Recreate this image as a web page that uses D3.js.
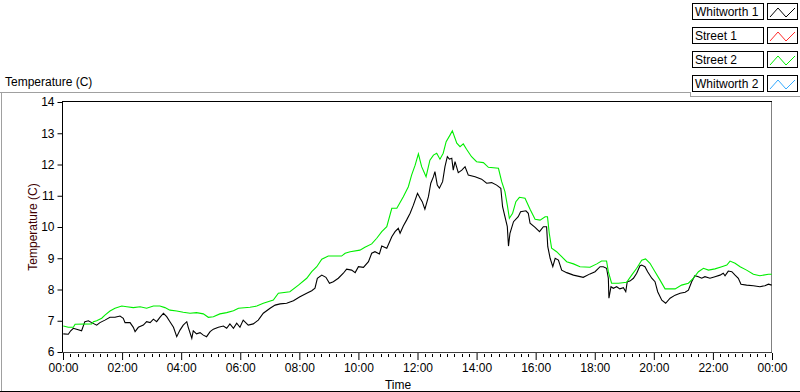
<!DOCTYPE html>
<html><head><meta charset="utf-8">
<script src="https://cdn.jsdelivr.net/npm/d3@7"></script>
<style>
html,body{margin:0;padding:0;background:#fff;}
svg{display:block;font-family:"Liberation Sans",Arial,sans-serif;}
</style></head>
<body>
<svg id="chart" width="800" height="392"></svg>
<script>
// ---------- data ----------
const seriesNames = ["Whitworth 1", "Street 1", "Street 2", "Whitworth 2"];
const seriesColors = ["#000000", "#ff2a2a", "#00ee00", "#33aaff"];

const whitworth1Hours = [0.01,0.18,0.26,0.35,0.46,0.63,0.74,0.86,0.97,1.14,1.25,1.42,1.59,1.76,1.93,2.04,2.10,2.27,2.38,2.44,2.55,2.72,2.83,2.95,3.06,3.17,3.28,3.40,3.51,3.62,3.74,3.85,3.96,4.07,4.19,4.24,4.36,4.41,4.52,4.64,4.75,4.86,4.98,5.09,5.26,5.43,5.54,5.65,5.77,5.88,5.99,6.10,6.27,6.44,6.61,6.78,7.01,7.18,7.35,7.57,7.80,8.02,8.25,8.42,8.53,8.61,8.76,8.90,9.02,9.15,9.32,9.49,9.60,9.77,9.89,10.00,10.17,10.34,10.45,10.56,10.71,10.79,10.96,11.13,11.24,11.35,11.41,11.52,11.63,11.75,11.86,12.00,12.09,12.16,12.25,12.37,12.45,12.54,12.59,12.67,12.74,12.85,12.93,13.01,13.08,13.16,13.21,13.27,13.38,13.50,13.61,13.72,13.95,14.17,14.34,14.51,14.68,14.82,14.88,14.96,15.04,15.08,15.13,15.25,15.41,15.49,15.67,15.75,15.81,15.98,16.13,16.26,16.37,16.41,16.49,16.58,16.66,16.77,16.88,17.05,17.28,17.61,17.84,18.01,18.18,18.29,18.40,18.46,18.48,18.55,18.63,18.74,18.85,18.97,19.05,19.10,19.19,19.31,19.42,19.53,19.59,19.70,19.79,19.93,20.04,20.13,20.27,20.40,20.55,20.72,20.89,21.06,21.17,21.28,21.39,21.51,21.62,21.73,21.90,22.07,22.24,22.35,22.41,22.52,22.64,22.75,22.86,22.95,23.14,23.37,23.59,23.76,23.88,23.99];
const whitworth1Temps = [6.58,6.57,6.68,6.76,6.73,6.68,6.97,7.00,6.94,6.86,6.94,7.02,7.11,7.11,7.15,7.08,6.94,6.94,6.79,6.65,6.79,6.86,6.97,6.94,7.05,6.97,7.11,7.24,7.13,6.97,6.79,6.49,6.70,6.86,6.97,6.79,6.44,6.68,6.58,6.62,6.54,6.49,6.65,6.73,6.79,6.83,6.76,6.90,6.76,6.92,6.79,7.02,6.86,6.90,7.02,7.24,7.40,7.50,7.54,7.56,7.64,7.77,7.88,7.96,8.04,8.36,8.46,8.39,8.20,8.25,8.36,8.52,8.65,8.62,8.54,8.73,8.71,8.89,9.16,9.21,9.14,9.39,9.32,9.69,9.85,9.96,9.80,10.03,10.22,10.44,10.70,11.08,10.92,10.81,10.57,10.97,11.40,11.61,11.77,11.34,11.24,11.45,11.93,12.25,12.17,12.20,11.82,12.09,11.74,11.82,11.93,11.66,11.61,11.53,11.40,11.42,11.34,11.24,10.65,10.33,10.01,9.39,9.80,10.17,10.33,10.49,10.52,10.44,10.12,9.99,9.85,10.01,10.01,9.37,9.00,8.73,9.00,8.94,8.62,8.54,8.46,8.39,8.50,8.57,8.73,8.73,8.68,8.36,7.72,8.09,8.04,8.09,8.02,8.06,7.93,8.25,8.27,8.36,8.52,8.76,8.78,8.73,8.57,8.36,8.25,7.93,7.66,7.56,7.72,7.82,7.88,7.91,7.98,8.25,8.44,8.41,8.36,8.41,8.36,8.41,8.46,8.52,8.44,8.59,8.57,8.46,8.36,8.17,8.14,8.12,8.09,8.12,8.17,8.14];

const street1Hours = [];
const street1Temps = [];

const street2Hours = [0.01,0.18,0.35,0.41,0.97,1.03,1.14,1.31,1.42,1.59,1.76,1.99,2.16,2.38,2.61,2.83,3.06,3.28,3.45,3.62,3.85,4.07,4.30,4.52,4.75,4.92,5.09,5.31,5.54,5.77,5.94,6.33,6.56,6.78,7.12,7.29,7.68,7.97,8.25,8.42,8.59,8.76,8.98,9.43,9.55,9.72,10.05,10.22,10.45,10.62,10.79,10.96,11.13,11.30,11.52,11.69,11.80,11.92,12.03,12.14,12.29,12.42,12.54,12.65,12.76,12.87,12.97,13.10,13.18,13.33,13.44,13.55,13.66,13.83,14.00,14.23,14.40,14.74,14.85,14.96,15.04,15.11,15.22,15.33,15.45,15.64,15.81,15.98,16.15,16.32,16.40,16.46,16.54,16.71,16.88,17.05,17.28,17.50,17.84,18.07,18.23,18.40,18.46,18.57,18.80,19.08,19.25,19.42,19.59,19.72,19.87,20.04,20.21,20.38,20.72,20.94,21.17,21.34,21.51,21.68,21.85,22.07,22.30,22.47,22.58,22.75,22.92,23.14,23.37,23.59,23.88,23.99];
const street2Temps = [6.83,6.79,6.79,6.89,6.90,6.97,7.00,7.08,7.18,7.31,7.40,7.47,7.45,7.42,7.45,7.40,7.47,7.47,7.42,7.34,7.31,7.27,7.24,7.26,7.22,7.11,7.13,7.22,7.26,7.32,7.40,7.43,7.47,7.56,7.66,7.88,7.93,8.14,8.36,8.57,8.73,8.97,9.07,9.07,9.16,9.21,9.26,9.35,9.46,9.64,9.85,10.01,10.60,10.60,10.97,11.29,11.66,11.98,12.34,11.93,11.61,12.14,12.30,12.36,12.17,12.36,12.73,12.94,13.08,12.68,12.57,12.66,12.49,12.25,12.09,12.06,11.91,11.88,11.45,11.13,10.70,10.28,10.44,10.81,10.95,10.92,10.57,10.25,10.22,10.33,10.33,9.80,9.32,9.21,9.05,8.89,8.82,8.73,8.71,8.82,8.91,8.91,8.57,8.20,8.20,8.23,8.46,8.68,8.94,8.98,8.84,8.57,8.30,8.02,8.02,8.14,8.20,8.36,8.57,8.68,8.62,8.66,8.73,8.78,8.91,8.84,8.73,8.62,8.49,8.44,8.49,8.49];

const whitworth2Hours = [];
const whitworth2Temps = [];

const yTickValues = [6, 7, 8, 9, 10, 11, 12, 13, 14];
const xTickLabels = ["00:00","02:00","04:00","06:00","08:00","10:00","12:00","14:00","16:00","18:00","20:00","22:00","00:00"];

// ---------- chart ----------
const svg = d3.select("#chart");
const FS = 12;

const x = d3.scaleLinear().domain([0, 24]).range([63, 772]);
const y = d3.scaleLinear().domain([6, 14]).range([352, 102]);

// outer frames
svg.append("line").attr("x1",0).attr("x2",690).attr("y1",92.5).attr("y2",92.5).attr("stroke","#a0a0a0");
svg.append("line").attr("x1",1.5).attr("x2",1.5).attr("y1",92).attr("y2",392).attr("stroke","#a0a0a0");
svg.append("line").attr("x1",0).attr("x2",800).attr("y1",391.5).attr("y2",391.5).attr("stroke","#000");
svg.append("line").attr("x1",690.5).attr("x2",690.5).attr("y1",92).attr("y2",97).attr("stroke","#a0a0a0");
svg.append("line").attr("x1",690).attr("x2",800).attr("y1",96.5).attr("y2",96.5).attr("stroke","#a0a0a0");

// top title
svg.append("text").attr("x",5).attr("y",86).attr("font-size",FS).attr("fill","#000").text("Temperature (C)");

// plot area
svg.append("rect").attr("x",63).attr("y",102).attr("width",709).attr("height",250).attr("fill","#fff");

// y axis
const yAxis = d3.axisLeft(y).tickValues(yTickValues).tickSize(5).tickPadding(3).tickFormat(d3.format("d"));
const gy = svg.append("g").attr("transform","translate(62.5,0)").call(yAxis);
gy.select(".domain").remove();
gy.selectAll("text").attr("font-size",FS).attr("font-family","inherit").attr("fill","#000");

// x axis major
const xMajor = d3.range(0, 25, 2);
const xAxis = d3.axisBottom(x).tickValues(xMajor).tickSize(7).tickPadding(3)
  .tickFormat((d,i) => xTickLabels[i]);
const gx = svg.append("g").attr("transform","translate(0,353)").call(xAxis);
gx.select(".domain").remove();
gx.selectAll("text").attr("font-size",FS).attr("font-family","inherit").attr("fill","#000");
// x minor ticks (every 15 minutes)
svg.append("g").selectAll("line").data(d3.range(0, 24.01, 0.25).filter(d => Math.abs(d/2 - Math.round(d/2)) > 1e-6))
  .join("line").attr("x1",d=>Math.round(x(d))+0.5).attr("x2",d=>Math.round(x(d))+0.5)
  .attr("y1",354).attr("y2",357).attr("stroke","#000");

// plot borders
svg.append("line").attr("x1",62.5).attr("x2",772).attr("y1",101.5).attr("y2",101.5).attr("stroke","#000");
svg.append("line").attr("x1",62.5).attr("x2",62.5).attr("y1",101).attr("y2",353).attr("stroke","#000");
svg.append("line").attr("x1",771.5).attr("x2",771.5).attr("y1",102).attr("y2",353).attr("stroke","#808080");
svg.append("line").attr("x1",62).attr("x2",772).attr("y1",352.5).attr("y2",352.5).attr("stroke","#404040");

// axis titles
svg.append("text").attr("transform","translate(37,227) rotate(-90)").attr("text-anchor","middle")
  .attr("font-size",FS).attr("fill","#400000").text("Temperature (C)");
svg.append("text").attr("x",398).attr("y",389).attr("text-anchor","middle")
  .attr("font-size",FS).attr("fill","#000").text("Time");

// lines
const allSeries = [
  {hours: whitworth1Hours, temps: whitworth1Temps, color: seriesColors[0]},
  {hours: street1Hours, temps: street1Temps, color: seriesColors[1]},
  {hours: whitworth2Hours, temps: whitworth2Temps, color: seriesColors[3]},
  {hours: street2Hours, temps: street2Temps, color: seriesColors[2]},
];
const line = d3.line().x(d => x(d[0])).y(d => y(d[1]));
const plotG = svg.append("g");
allSeries.forEach(s => {
  const pts = s.hours.map((h,i) => [h, s.temps[i]]);
  if (!pts.length) return;
  plotG.append("path").datum(pts).attr("d", line).attr("fill","none")
    .attr("stroke", s.color).attr("stroke-width",1.1).attr("stroke-linejoin","miter");
});

// legend
const lg = svg.append("g");
seriesNames.forEach((name, i) => {
  const top = 3 + i * 24;
  lg.append("rect").attr("x",692.5).attr("y",top+0.5).attr("width",71).attr("height",16)
    .attr("fill","#fff").attr("stroke","#000");
  lg.append("text").attr("x",695).attr("y",top+13).attr("font-size",FS).attr("fill","#000").text(name);
  lg.append("rect").attr("x",767.5).attr("y",top+0.5).attr("width",30).attr("height",16)
    .attr("fill","#fff").attr("stroke","#000");
  const zig = [[770,top+14],[778,top+5],[786,top+14],[795,top+5]];
  lg.append("path").attr("d", d3.line()(zig)).attr("fill","none").attr("stroke",seriesColors[i]).attr("stroke-width",1);
});
</script>
</body></html>
